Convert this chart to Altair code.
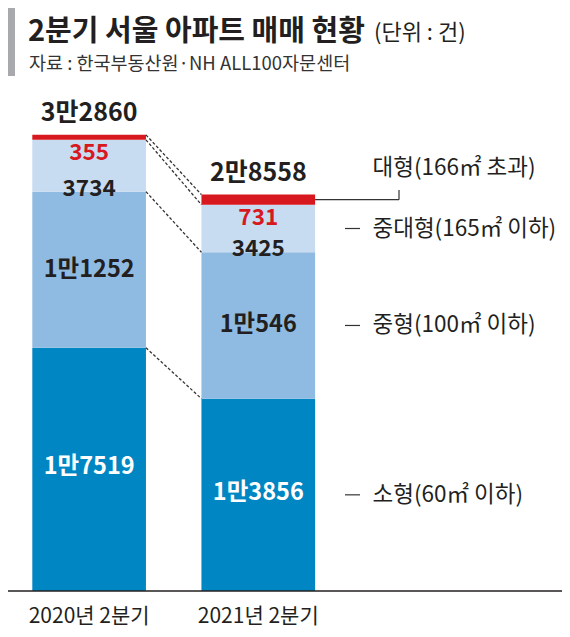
import altair as alt
import pandas as pd

# ---- data ----
categories = ["2020년 2분기", "2021년 2분기"]
segments = ["소형", "중형", "중대형", "대형"]
segment_labels = ["소형(60㎡ 이하)", "중형(100㎡ 이하)", "중대형(165㎡ 이하)", "대형(166㎡ 초과)"]
small = [17519, 13856]
medium = [11252, 10546]
medium_large = [3734, 3425]
large = [355, 731]

title_text = "2분기 서울 아파트 매매 현황"
unit_text = "(단위 : 건)"
source_text = "자료 : 한국부동산원·NH ALL100자문센터"

# ---- styles ----
colors = ["#0087c3", "#8fbbe3", "#c7dbf1", "#d7191f"]
DARK = "#231f20"
RED = "#d7191f"
FONT = "Noto Sans CJK KR"
W, H = 554, 583


def man(v):
    return f"{v // 10000}만{v % 10000}" if v >= 10000 else str(v)


series = [small, medium, medium_large, large]
rows = []
for ci, cat in enumerate(categories):
    acc = 0
    for si, seg in enumerate(segments):
        v = series[si][ci]
        rows.append(dict(cat=cat, seg=seg, value=v, y0=acc, y1=acc + v,
                         mid=acc + v / 2, label=man(v), legend=segment_labels[si]))
        acc += v
df = pd.DataFrame(rows)

totals = pd.DataFrame({
    "cat": categories,
    "total": [sum(s[i] for s in series) for i in range(len(categories))],
})
totals["label"] = totals["total"].map(man)

conn_rows = []
for si in range(len(segments)):
    conn_rows.append(dict(
        src=categories[0], dst=categories[1],
        y_from=sum(series[k][0] for k in range(si + 1)),
        y_to=sum(series[k][1] for k in range(si + 1)),
    ))
conn = pd.DataFrame(conn_rows)

xscale = alt.Scale(domain=categories, range=[24.3, 307.1], paddingInner=0.328, paddingOuter=0)
yscale = alt.Scale(domain=[0, 42000], range=[H, 0], nice=False, zero=True)
xaxis = alt.Axis(labelFontSize=21, labelFont=FONT, labelColor=DARK, ticks=False,
                 domain=False, labelPadding=14, labelAngle=0, grid=False, title=None)


def X(field, **kw):
    return alt.X(field, scale=xscale, sort=categories, axis=xaxis, title=None, **kw)


def Y(field):
    return alt.Y(field, scale=yscale, axis=None)


base = alt.Chart(df)

bars = base.mark_bar().encode(
    x=X("cat:N"),
    y=Y("y0:Q"),
    y2="y1:Q",
    color=alt.Color("seg:N", scale=alt.Scale(domain=segments, range=colors), legend=None),
)


def seg_text(seg, color, yfield, dy, size=23.5):
    return base.transform_filter(alt.datum.seg == seg).mark_text(
        font=FONT, fontWeight="bold", fontSize=size, color=color, baseline="middle", dy=dy
    ).encode(x=X("cat:N"), y=Y(f"{yfield}:Q"), text="label:N")


lbl_small = seg_text("소형", "white", "mid", -2)
lbl_med = seg_text("중형", DARK, "mid", 0)
lbl_ml = seg_text("중대형", DARK, "y0", -3, 22.5)
lbl_large = seg_text("대형", RED, "y0", 13, 22.5)

tot = alt.Chart(totals).mark_text(
    font=FONT, fontWeight="bold", fontSize=25, color=DARK, baseline="middle", dy=-22
).encode(x=X("cat:N"), y=Y("total:Q"), text="label:N")

connectors = alt.Chart(conn).mark_rule(color="#333333", strokeWidth=1.3, strokeDash=[3, 2]).encode(
    x=X("src:N", bandPosition=1),
    x2=alt.X2("dst:N", bandPosition=0),
    y=Y("y_from:Q"),
    y2="y_to:Q",
)

bar2 = base.transform_filter(alt.datum.cat == categories[1])

ticks = bar2.transform_filter(alt.datum.seg != "대형").mark_rule(color="#333333", strokeWidth=1.2).encode(
    x=alt.value(337), x2=alt.value(352), y=Y("mid:Q")
)
lead_h = bar2.transform_filter(alt.datum.seg == "대형").mark_rule(color="#333333", strokeWidth=1.2).encode(
    x=X("cat:N", bandPosition=1), x2=alt.value(391), y=Y("mid:Q")
)
lead_v = bar2.transform_filter(alt.datum.seg == "대형").mark_rule(color="#333333", strokeWidth=1.2).encode(
    x=alt.value(391), y=Y("mid:Q"), y2=alt.value(182)
)

leg_text = bar2.transform_filter(alt.datum.seg != "대형").mark_text(
    font=FONT, fontSize=22.5, color=DARK, align="left", baseline="middle"
).encode(x=alt.value(364.5), y=Y("mid:Q"), text="legend:N")
leg_large = bar2.transform_filter(alt.datum.seg == "대형").mark_text(
    font=FONT, fontSize=22.5, color=DARK, align="left", baseline="middle", dy=-32
).encode(x=alt.value(364.5), y=Y("mid:Q"), text="legend:N")

baseline_rule = alt.Chart(pd.DataFrame({"z": [0]})).mark_rule(color=DARK, strokeWidth=1.3).encode(
    y=Y("z:Q"), x=alt.value(0), x2=alt.value(W)
)

gray_bar = alt.Chart(pd.DataFrame({"z": [0]})).mark_rect(color="#a7a9ac").encode(
    x=alt.value(0), x2=alt.value(7), y=alt.value(0), y2=alt.value(68)
)

title = alt.Chart(pd.DataFrame({"t": [title_text]})).mark_text(
    font=FONT, fontWeight="bold", fontSize=29, color=DARK, align="left", baseline="middle"
).encode(x=alt.value(20), y=alt.value(24), text="t:N")
unit = alt.Chart(pd.DataFrame({"t": [unit_text]})).mark_text(
    font=FONT, fontSize=22, color=DARK, align="left", baseline="middle"
).encode(x=alt.value(366), y=alt.value(25), text="t:N")
source = alt.Chart(pd.DataFrame({"t": [source_text]})).mark_text(
    font=FONT, fontSize=18.5, color="#333333", align="left", baseline="middle"
).encode(x=alt.value(21), y=alt.value(56), text="t:N")

chart = alt.layer(
    bars, connectors, baseline_rule, lbl_small, lbl_med, lbl_ml, lbl_large, tot,
    ticks, lead_h, lead_v, leg_text, leg_large, gray_bar, title, unit, source,
).properties(
    width=W, height=H, autosize=alt.AutoSizeParams(type="none"),
    padding={"left": 0, "right": 0, "top": 0, "bottom": 38},
    background="white",
).configure_view(stroke=None)

chart.save("out.html", embed_options={"renderer": "svg", "actions": False})
